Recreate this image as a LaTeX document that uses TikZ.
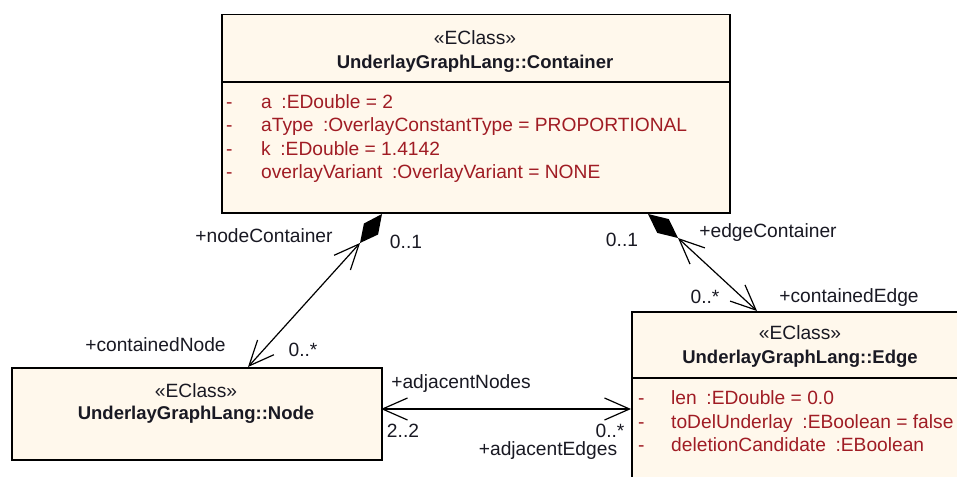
\documentclass[tikz,border=0pt]{standalone}
\usepackage{fontspec}
\setmainfont{Liberation Sans}
\usetikzlibrary{arrows.meta}
\definecolor{classfill}{RGB}{255,248,236}
\definecolor{attrred}{RGB}{160,28,36}
\definecolor{lbl}{RGB}{25,25,35}
\tikzset{
  classbox/.style={draw, line width=1.5pt, fill=classfill, anchor=north west, inner sep=0pt},
  txt/.style={anchor=base, inner sep=0pt, text=lbl},
  cname/.style={txt, font=\fontsize{18.5}{22}\selectfont\bfseries},
  attr/.style={anchor=base west, inner sep=0pt, text=attrred},
  assoc/.style={line width=1.2pt, {Straight Barb[length=25pt,width=22pt]}-{Straight Barb[length=25pt,width=22pt]}},
}
\begin{document}
\begin{tikzpicture}[x=1pt, y=-1pt, font=\fontsize{19.2}{22}\selectfont]
    \clip (0,0) rectangle (957,476);
    \fill[white] (0,0) rectangle (957,476);
    % classes
    \node[classbox, minimum width=508, minimum height=198] (cont) at (221,14) {};
    \draw[line width=1.5pt] (221,82) -- (729,82);
    \node[txt] (contst) at (475,44.5) {«EClass»};
    \node[cname] (contname) at (475,68.5) {UnderlayGraphLang::Container};
    \node[attr] (contd1) at (226,108) {-};
    \node[attr] (conta1) at (261,108) {a\enspace:EDouble = 2};
    \node[attr] (contd2) at (226,131.5) {-};
    \node[attr] (conta2) at (261,131.5) {aType\enspace:OverlayConstantType = PROPORTIONAL};
    \node[attr] (contd3) at (226,155) {-};
    \node[attr] (conta3) at (261,155) {k\enspace:EDouble = 1.4142};
    \node[attr] (contd4) at (226,178.5) {-};
    \node[attr] (conta4) at (261,178.5) {overlayVariant\enspace:OverlayVariant = NONE};

    \node[classbox, minimum width=370, minimum height=92] (node) at (11,367) {};
    \node[txt] (nodest) at (196,397.5) {«EClass»};
    \node[cname] (nodename) at (196,419.5) {UnderlayGraphLang::Node};

    \node[classbox, minimum width=338, minimum height=200] (edge) at (631,311) {};
    \draw[line width=1.5pt] (631,378) -- (969,378);
    \node[txt] (edgest) at (800,339.5) {«EClass»};
    \node[cname] (edgename) at (800,363.5) {UnderlayGraphLang::Edge};
    \node[attr] (edged1) at (638,404.5) {-};
    \node[attr] (edgea1) at (671,404.5) {len\enspace:EDouble = 0.0};
    \node[attr] (edged2) at (638,428) {-};
    \node[attr] (edgea2) at (671,428) {toDelUnderlay\enspace:EBoolean = false};
    \node[attr] (edged3) at (638,451.5) {-};
    \node[attr] (edgea3) at (671,451.5) {deletionCandidate\enspace:EBoolean};

    % association ends
    \coordinate (ncTop) at (382,214);
    \coordinate (ncTip) at (360,243);
    \coordinate (nodeTop) at (248,367);
    \coordinate (ecTop) at (648,214);
    \coordinate (ecTip) at (678,238);
    \coordinate (edgeTop) at (757,311);
    \coordinate (nodeRight) at (381,409);
    \coordinate (edgeLeft) at (631,409);

    \fill (ncTop) -- (378.1,234.5) -- (ncTip) -- (363.9,223.5) -- cycle;
    \fill (ecTop) -- (668.8,219.1) -- (ecTip) -- (657.2,232.9) -- cycle;
    \draw[assoc] (ncTip) -- (nodeTop);
    \draw[assoc] (ecTip) -- (edgeTop);
    \draw[assoc] (nodeRight) -- (edgeLeft);

    % role names and multiplicities
    \node[txt] (ncRole) at (264,242.5) {+nodeContainer};
    \node[txt] (ncMult) at (406,248.5) {0..1};
    \node[txt] (cnRole) at (155.5,351.5) {+containedNode};
    \node[txt] (cnMult) at (303,356.5) {0..*};
    \node[txt] (ecMult) at (622,246.5) {0..1};
    \node[txt] (ecRole) at (768,237.5) {+edgeContainer};
    \node[txt] (ceMult) at (705,303.5) {0..*};
    \node[txt] (ceRole) at (849,302.5) {+containedEdge};
    \node[txt] (anRole) at (461,388.5) {+adjacentNodes};
    \node[txt] (anMult) at (403,437.5) {2..2};
    \node[txt] (aeMult) at (610,437.5) {0..*};
    \node[txt] (aeRole) at (548,455.5) {+adjacentEdges};
\end{tikzpicture}
\end{document}
